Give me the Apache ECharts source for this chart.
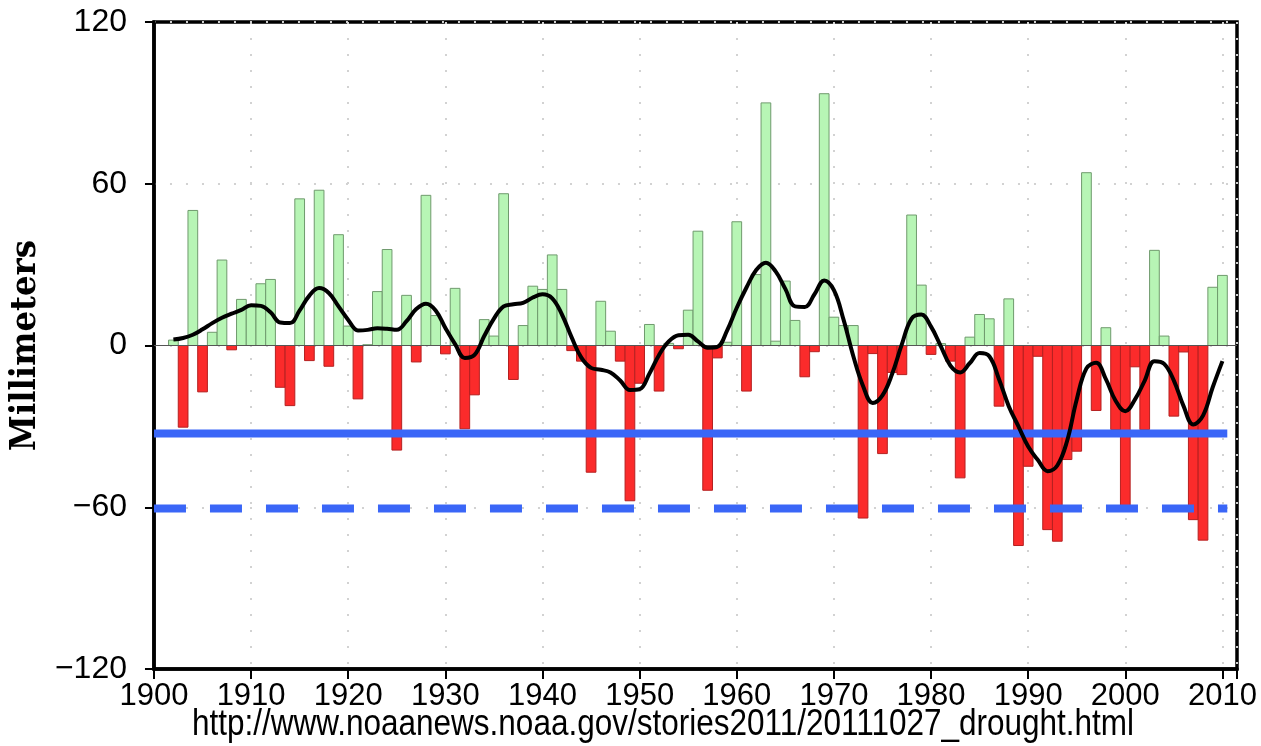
<!DOCTYPE html>
<html>
<head>
<meta charset="utf-8">
<script src="https://cdn.jsdelivr.net/npm/echarts@6/dist/echarts.min.js"></script>
<style>
  html, body { margin: 0; padding: 0; background: #ffffff; }
  #chart { width: 1261px; height: 746px; }
</style>
</head>
<body>
<div id="chart"></div>
<script>
// ---- Data ----
var years = [];
for (var y = 1902; y <= 2010; y++) years.push(y);

var anomalies = [
  2.0, -30.3, 50.1, -17.2, 4.9, 31.7, -1.6, 17.1, 14.5,            // 1902-1910
  22.9, 24.5, -15.5, -22.3, 54.4, -5.6, 57.6, -7.7, 41.1, 7.2,      // 1911-1920
  -19.8, 0.3, 20.0, 35.6, -38.8, 18.6, -6.1, 55.7, 11.1, -3.1,      // 1921-1930
  21.2, -30.9, -18.3, 9.6, 3.5, 56.3, -12.6, 7.4, 22.0, 20.8,       // 1931-1940
  33.6, 20.8, -1.9, -5.8, -47.0, 16.4, 5.3, -5.8, -57.6, -14.0,     // 1941-1950
  7.8, -16.9, 0.8, -1.2, 13.1, 42.4, -53.7, -4.6, 1.2, 45.9,        // 1951-1960
  -16.9, 26.3, 90.0, 1.6, 23.9, 9.3, -11.6, -2.3, 93.4, 10.5,       // 1961-1970
  7.4, 7.4, -64.0, -3.0, -40.1, -10.0, -10.8, 48.4, 22.4, -3.3,     // 1971-1980
  0.7, -5.8, -49.1, 3.1, 11.5, 9.9, -22.5, 17.3, -74.2, -44.8,      // 1981-1990
  -4.0, -68.3, -72.6, -42.3, -39.2, 64.1, -24.1, 6.6, -31.2, -59.4, // 1991-2000
  -7.9, -31.2, 35.3, 3.5, -26.2, -2.4, -64.6, -72.2, 21.6, 26.0     // 2001-2010
];

var smoothed = [
  2.2, 2.8, 4.0, 6.0, 8.3, 10.3, 11.8, 13.2, 14.9,                  // 1902-1910
  14.7, 12.3, 8.5, 8.3, 13.0, 18.5, 21.3, 19.5, 14.5, 9.5,          // 1911-1920
  5.6, 5.8, 6.4, 6.2, 5.8, 9.0, 13.5, 15.5, 13.0, 6.5,              // 1921-1930
  0.5, -4.6, -3.5, 3.5, 10.0, 14.5, 15.3, 15.8, 17.8, 19.0,         // 1931-1940
  17.5, 11.5, 3.0, -4.5, -8.3, -9.0, -10.0, -13.0, -16.5, -16.2,    // 1941-1950
  -10.5, -3.5, 1.5, 3.8, 4.0, 1.5, -0.8, -0.5, 5.5, 14.0,           // 1951-1960
  21.5, 28.0, 30.7, 27.5, 21.0, 14.5, 14.3, 19.0, 24.1, 20.5,       // 1961-1970
  9.5, -4.0, -15.0, -21.3, -18.5, -10.5, 0.5, 10.0, 11.5, 7.0,      // 1971-1980
  -0.2, -7.5, -10.0, -6.5, -2.8, -4.0, -12.5, -22.5, -30.0, -37.5,  // 1981-1990
  -42.5, -46.6, -44.5, -35.5, -20.0, -8.5, -6.4, -12.5, -20.5, -24.4, // 1991-2000
  -20.0, -13.0, -5.8, -6.8, -13.0, -22.5, -29.3, -26.0, -15.5, -5.8 // 2001-2010
];

var thresholdSolid = -32.6;
var thresholdDashed = -60.5;
var thresholdSpan = [1900, 2010.5];

var xRange = [1900, 2011.5];
var yTicks = [-120, -60, 0, 60, 120];
var yAxisTitle = 'Millimeters';
var sourceText = 'http://www.noaanews.noaa.gov/stories2011/20111027_drought.html';

// ---- Build series data ----
var barData = years.map(function (yr, i) { return [yr, anomalies[i]]; });
var lineData = years.map(function (yr, i) { return [yr, smoothed[i]]; });

var chart = echarts.init(document.getElementById('chart'), null, { renderer: 'canvas' });

var labelFont = '"Liberation Sans", Arial, Helvetica, sans-serif';

function renderBar(params, api) {
  var yr = api.value(0);
  var v = api.value(1);
  var p0 = api.coord([yr - 0.5, v]);
  var p1 = api.coord([yr + 0.5, 0]);
  var x = Math.min(p0[0], p1[0]);
  var w = Math.abs(p1[0] - p0[0]);
  var top = Math.min(p0[1], p1[1]);
  var h = Math.abs(p1[1] - p0[1]);
  var pos = v >= 0;
  return {
    type: 'rect',
    shape: { x: x, y: top, width: w, height: h },
    style: {
      fill: pos ? '#b7f5b5' : '#fb2b2b',
      stroke: pos ? '#6f9a6d' : '#b52020',
      lineWidth: 1
    }
  };
}

chart.setOption({
  backgroundColor: '#ffffff',
  animation: false,
  grid: {
    left: 153, right: 24, top: 22, bottom: 77,
    show: true, borderColor: '#000', borderWidth: 3.5, backgroundColor: 'transparent'
  },
  xAxis: {
    type: 'value',
    min: xRange[0], max: xRange[1], interval: 10,
    axisLine: { show: true, onZero: false, lineStyle: { color: '#000', width: 3.5 } },
    axisTick: { show: true, inside: false, length: 10, lineStyle: { color: '#000', width: 2 } },
    axisLabel: {
      color: '#000', fontFamily: labelFont, fontSize: 31, margin: 12,
      formatter: function (v) { return (v % 10 === 0) ? String(v) : ''; }
    },
    splitLine: { show: true, lineStyle: { color: '#d2d2d2', width: 2, type: [2, 14] } }
  },
  yAxis: {
    type: 'value',
    min: yTicks[0], max: yTicks[yTicks.length - 1], interval: 60,
    name: yAxisTitle,
    nameLocation: 'middle',
    nameRotate: 90,
    nameGap: 102,
    nameTextStyle: {
      color: '#000', fontFamily: '"DejaVu Serif Condensed", "DejaVu Serif", serif',
      fontWeight: 'bold', fontSize: 36
    },
    axisLine: { show: true, onZero: false, lineStyle: { color: '#000', width: 3.5 } },
    axisTick: { show: true, inside: false, length: 9, lineStyle: { color: '#000', width: 2 } },
    axisLabel: {
      color: '#000', fontFamily: labelFont, fontSize: 32, margin: 27,
      formatter: function (v) { return v < 0 ? '\u2212' + Math.abs(v) : String(v); }
    },
    splitLine: { show: true, lineStyle: { color: '#d2d2d2', width: 2, type: [2, 14] } }
  },
  series: [
    {
      type: 'custom',
      renderItem: renderBar,
      data: barData,
      encode: { x: 0, y: 1 },
      z: 2,
      markLine: {
        silent: true,
        symbol: 'none',
        label: { show: false },
        lineStyle: { color: '#555', width: 1, type: 'solid' },
        data: [{ yAxis: 0 }],
        z: 3
      }
    },
    {
      type: 'line',
      data: [[thresholdSpan[0], thresholdSolid], [thresholdSpan[1], thresholdSolid]],
      symbol: 'none',
      lineStyle: { color: '#3a66f7', width: 8, type: 'solid', cap: 'butt' },
      z: 4
    },
    {
      type: 'line',
      data: [[thresholdSpan[0], thresholdDashed], [thresholdSpan[1], thresholdDashed]],
      symbol: 'none',
      lineStyle: { color: '#3a66f7', width: 8, type: [32, 24], cap: 'butt' },
      z: 4
    },
    {
      type: 'line',
      data: lineData,
      smooth: 0.4,
      symbol: 'none',
      lineStyle: { color: '#000', width: 4 },
      z: 5
    }
  ],
  graphic: [
    {
      type: 'text',
      x: 663,
      y: 743,
      scaleX: 0.875,
      style: {
        text: sourceText,
        fill: '#000',
        font: '36px ' + labelFont,
        textAlign: 'center',
        textVerticalAlign: 'bottom'
      }
    }
  ]
});
</script>
</body>
</html>
